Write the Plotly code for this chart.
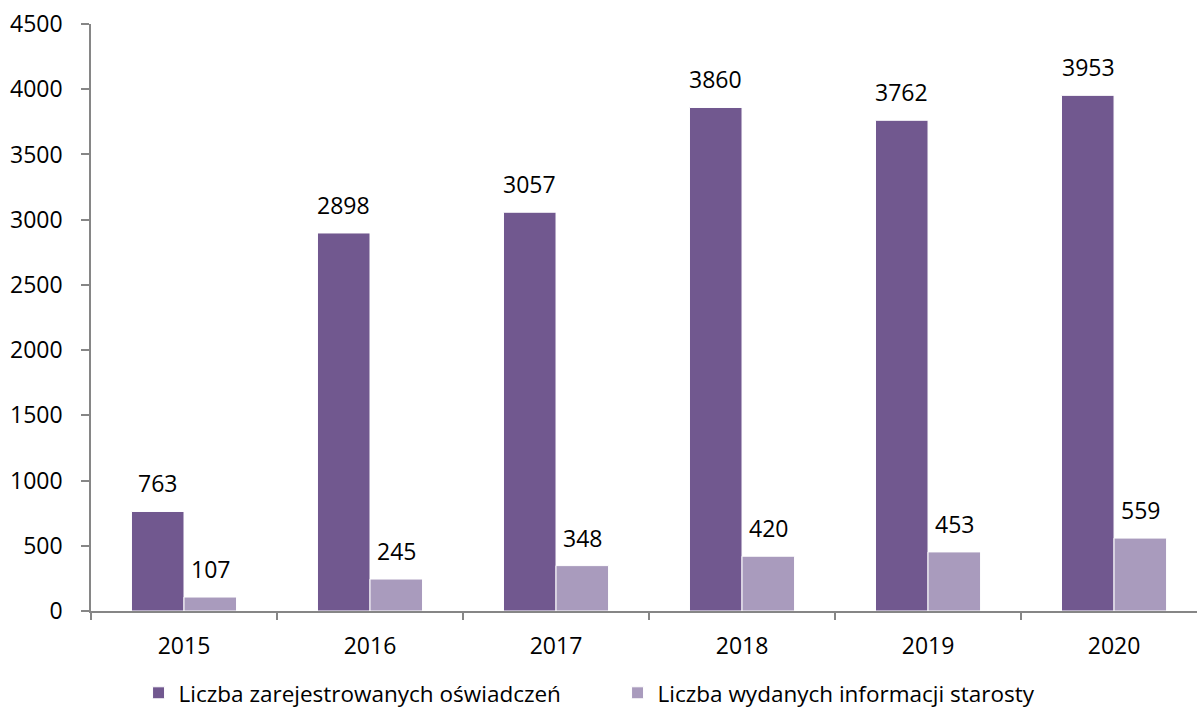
import plotly.graph_objects as go

years = ["2015", "2016", "2017", "2018", "2019", "2020"]
zarejestrowane = [763, 2898, 3057, 3860, 3762, 3953]
informacje = [107, 245, 348, 420, 453, 559]
series_names = ["Liczba zarejestrowanych oświadczeń", "Liczba wydanych informacji starosty"]
y_ticks = [0, 500, 1000, 1500, 2000, 2500, 3000, 3500, 4000, 4500]

dark = "#71588F"
light = "#A99BBD"
FONT = "Open Sans"
FS = 23

fig = go.Figure()
fig.add_trace(go.Bar(x=years, y=zarejestrowane, name=series_names[0],
                     marker=dict(color=dark, line=dict(color="white", width=1)),
                     offsetgroup="a"))
fig.add_trace(go.Bar(x=years, y=informacje, name=series_names[1],
                     marker=dict(color=light, line=dict(color="white", width=1)),
                     offsetgroup="b"))

annotations = []
for i, yr in enumerate(years):
    for vals, sh in ((zarejestrowane, -0.14), (informacje, 0.14)):
        annotations.append(dict(x=i + sh, y=vals[i], xref="x", yref="y",
                                text=str(vals[i]), showarrow=False,
                                yanchor="bottom", yshift=10,
                                font=dict(family=FONT, size=FS, color="black")))

fig.update_layout(
    width=1197, height=710,
    margin=dict(l=91, r=0, t=24, b=99, autoexpand=False),
    paper_bgcolor="white", plot_bgcolor="white",
    barmode="group", bargap=0.435, bargroupgap=0,
    font=dict(family=FONT, size=FS, color="black"),
    showlegend=True,
    legend=dict(orientation="h", x=0.043, xanchor="left", y=-0.14, yanchor="middle",
                font=dict(family=FONT, size=FS - 0.5, color="black"),
                itemwidth=30, entrywidth=434, entrywidthmode="pixels",
                tracegroupgap=0, traceorder="normal"),
    annotations=annotations,
)
fig.update_xaxes(type="category", range=[-0.5, 5.446],
                 showline=True, linecolor="#868686", linewidth=1.5,
                 ticks="outside", ticklen=7, tickcolor="#868686", tickwidth=1.5,
                 tickson="boundaries", showgrid=False, ticklabelstandoff=14,
                 tickfont=dict(family=FONT, size=FS, color="black"))
fig.update_yaxes(range=[0, 4500], tickvals=y_ticks,
                 showline=True, linecolor="#868686", linewidth=1.5,
                 ticks="outside", ticklen=8, tickcolor="#868686", tickwidth=1.5,
                 showgrid=False, zeroline=False, ticklabelstandoff=14,
                 tickfont=dict(family=FONT, size=FS, color="black"))

fig.write_html("out.html", config={"displayModeBar": False},
               post_script="document.body.style.margin='0px';document.body.style.overflow='hidden';")
